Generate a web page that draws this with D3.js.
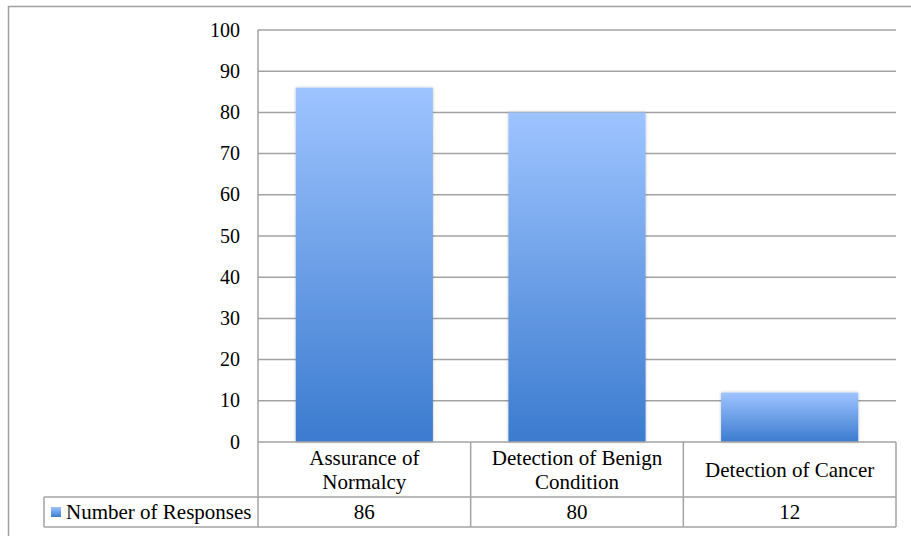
<!DOCTYPE html>
<html><head><meta charset="utf-8">
<script src="https://cdn.jsdelivr.net/npm/d3@7"></script>
<style>body{margin:0;background:#fff}svg{display:block}</style>
</head><body><svg id="c" width="911" height="536"></svg>
<script>
const categories = [["Assurance of","Normalcy"],["Detection of Benign","Condition"],["Detection of Cancer"]];
const categoryKeys = ["Assurance of Normalcy","Detection of Benign Condition","Detection of Cancer"];
const values = [86, 80, 12];
const seriesName = "Number of Responses";
const yTicks = [0,10,20,30,40,50,60,70,80,90,100];

const FONT = "'Liberation Serif'";
const svg = d3.select("#c");
const L = 258, R = 896, T = 30, B = 442;
const rowCat = 497, rowVal = 527, legL = 44;
const grid = "#a3a3a3";

const defs = svg.append("defs");
const g = defs.append("linearGradient").attr("id","bg").attr("x1",0).attr("y1",0).attr("x2",0).attr("y2",1);
g.append("stop").attr("offset","0%").attr("stop-color","#9ec4ff");
g.append("stop").attr("offset","100%").attr("stop-color","#3b7bcf");
const f = defs.append("filter").attr("id","sh").attr("x","-10%").attr("y","-10%").attr("width","120%").attr("height","120%");
f.append("feDropShadow").attr("dx",0).attr("dy",0).attr("stdDeviation",1.5).attr("flood-color","#000").attr("flood-opacity",0.25);

svg.append("path").attr("d",`M8.5,536 V6.5 H911`).attr("fill","none").attr("stroke","#a0a0a0").attr("stroke-width",1.5);

const x = d3.scaleBand().domain(categoryKeys).range([L,R]).paddingInner(0).paddingOuter(0);
const y = d3.scaleLinear().domain([0,100]).range([B,T]);

svg.append("g").selectAll("line").data(yTicks.filter(d=>d>0)).join("line")
  .attr("x1",L).attr("x2",R).attr("y1",d=>y(d)).attr("y2",d=>y(d))
  .attr("stroke",grid).attr("stroke-width",1.5);

const yAxis = d3.axisLeft(y).tickValues(yTicks).tickSize(0).tickPadding(18);
const ya = svg.append("g").attr("transform",`translate(${L},0)`).call(yAxis);
ya.select(".domain").remove();
ya.selectAll("text").attr("fill","#000").attr("font-family",FONT).attr("font-size",20).attr("dy","0.3em");

const bw = x.bandwidth()*0.645;
svg.append("g").selectAll("rect").data(values).join("rect")
  .attr("x",(d,i)=>x(categoryKeys[i])+(x.bandwidth()-bw)/2)
  .attr("width",bw)
  .attr("y",d=>y(d)).attr("height",d=>y(0)-y(d))
  .attr("fill","url(#bg)").attr("filter","url(#sh)");

const tl = svg.append("g").attr("stroke",grid).attr("stroke-width",1.5).attr("fill","none");
tl.append("line").attr("x1",L).attr("x2",R).attr("y1",B).attr("y2",B);
tl.append("line").attr("x1",legL).attr("x2",R).attr("y1",rowCat).attr("y2",rowCat);
tl.append("line").attr("x1",legL).attr("x2",R).attr("y1",rowVal).attr("y2",rowVal);
tl.append("line").attr("x1",legL).attr("x2",legL).attr("y1",rowCat).attr("y2",rowVal);
tl.append("line").attr("x1",L).attr("x2",L).attr("y1",T).attr("y2",rowVal);
categoryKeys.forEach(k=>{
  const xr = x(k)+x.bandwidth();
  tl.append("line").attr("x1",xr).attr("x2",xr).attr("y1",B).attr("y2",rowVal);
});

categories.forEach((lines,i)=>{
  const cx = x(categoryKeys[i])+x.bandwidth()/2;
  const cy = (B+rowCat)/2;
  const lh = 24;
  lines.forEach((ln,j)=>{
    svg.append("text").attr("text-anchor","middle").attr("font-family",FONT).attr("font-size",21).attr("fill","#000")
      .attr("x",cx).attr("y",cy + (j-(lines.length-1)/2)*lh + 7).text(ln);
  });
});

values.forEach((v,i)=>{
  svg.append("text").attr("x",x(categoryKeys[i])+x.bandwidth()/2).attr("y",(rowCat+rowVal)/2+7)
    .attr("text-anchor","middle").attr("font-family",FONT).attr("font-size",21).attr("fill","#000").text(v);
});

svg.append("rect").attr("x",51).attr("y",507).attr("width",10).attr("height",10).attr("fill","url(#bg)");
svg.append("text").attr("x",66).attr("y",(rowCat+rowVal)/2+7).attr("font-family",FONT).attr("font-size",21).attr("fill","#000").text(seriesName);
</script></body></html>
